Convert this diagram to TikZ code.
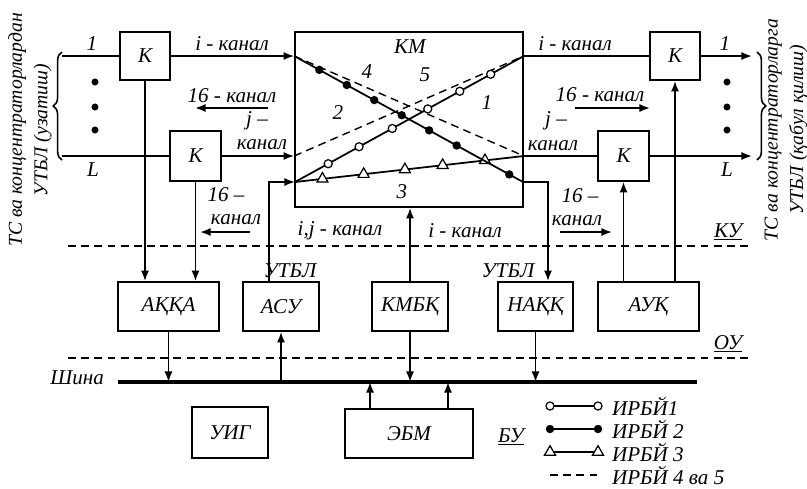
\documentclass[tikz,border=0pt]{standalone}
\usepackage{fontspec}
\setmainfont{Liberation Serif}
\usetikzlibrary{arrows.meta, positioning, calc, shapes.geometric, decorations.pathreplacing}

\begin{document}
\begin{tikzpicture}[
			x=0.02cm, y=-0.02cm,
			every node/.style={font=\fontsize{12}{14.5}\selectfont\itshape},
			block/.style={rectangle, draw, line width=1pt, inner sep=0pt},
			lowbox/.style={block, minimum height=0.98cm},
			arrow/.style={-{Latex[length=6pt,width=4.6pt]}, line width=1pt},
			wire/.style={line width=1pt},
			level/.style={dash pattern=on 4.5pt off 3pt, line width=0.8pt},
			bus/.style={line width=2.6pt},
			opendot/.style={circle, draw, fill=white, inner sep=0pt, minimum size=4.6pt, line width=0.7pt},
			fulldot/.style={circle, fill=black, inner sep=0pt, minimum size=4.8pt},
			tri/.style={regular polygon, regular polygon sides=3, draw, fill=white, inner sep=0pt, minimum size=7.2pt, line width=0.7pt},
			side/.style={rotate=90, align=center, font=\fontsize{11.2}{14.5}\selectfont\itshape},
			legtext/.style={anchor=west, inner sep=1pt},
			]
			\useasboundingbox (0,0) rectangle (807,488);
			
			% ---- switching level (top) ----
			\node[block, minimum width=1cm, minimum height=0.96cm] (K1) at (145,56) {К};
			\node[block, minimum width=1.02cm, minimum height=1cm] (K2) at (195.5,156) {К};
			\node[block, minimum width=4.56cm, minimum height=3.5cm] (KM) at (409,119.5) {};
			\node (KMlbl) at (410,47) {КМ};
			\node[block, minimum width=1cm, minimum height=0.96cm] (K3) at (675,56) {К};
			\node[block, minimum width=1.02cm, minimum height=1cm] (K4) at (623.5,156) {К};
			
			\coordinate (inA) at (62,56);
			\coordinate (inL) at (62,156);
			\coordinate (outA) at (752,56);
			\coordinate (outL) at (752,156);
			\coordinate (pA) at (KM.west |- K1);
			\coordinate (pJ) at (KM.west |- K2);
			\coordinate (pU) at (295,182);
			\coordinate (qA) at (KM.east |- K3);
			\coordinate (qJ) at (KM.east |- K4);
			\coordinate (qN) at (523,182);
			
			% ---- control and bus level (bottom) ----
			\node[lowbox, minimum width=2.02cm] (AKKA) at (168.5,306.5) {АҚҚА};
			\node[lowbox, minimum width=1.52cm] (ASU) at (281,306.5) {АСУ};
			\node[lowbox, minimum width=1.52cm] (KMBK) at (410,306.5) {КМБҚ};
			\node[lowbox, minimum width=1.5cm] (NAKK) at (535.5,306.5) {НАҚҚ};
			\node[lowbox, minimum width=2.02cm] (AUK) at (648.5,306.5) {АУҚ};
			\node[block, minimum width=1.52cm, minimum height=1.02cm] (UIG) at (230,432.5) {УИГ};
			\node[lowbox, minimum width=2.56cm] (EBM) at (409,433.5) {ЭБМ};
			
			\coordinate (busL) at (118,382);
			\coordinate (busR) at (697,382);
			\draw[bus] (busL) -- (busR);
			\node[anchor=east] (shina) at (110,378) {Шина};
			
			% level borders
			\draw[level] (68,246) -- (748,246);
			\draw[level] (68,358) -- (748,358);
			\node (KU) at (728,232) {\underline{КУ}};
			\node (OU) at (728,344) {\underline{ОУ}};
			\node (BU) at (511,437) {\underline{БУ}};
			
			% input side
			\draw[wire] (inA) -- (K1.west);
			\draw[wire] (inL) -- (K2.west);
			\draw[arrow] (K1.east) -- (pA);
			\draw[arrow] (K2.east) -- (pJ);
			\draw[arrow] ([xshift=-0.24cm]ASU.north) |- (pU);
			\draw[arrow] (K1.south) -- (K1.south |- AKKA.north);
			\draw[arrow] (K2.south) -- (K2.south |- AKKA.north);
			\draw[arrow] (KMBK.north) -- (KMBK.north |- KM.south);
			
			% output side
			\draw[wire] (qA) -- (K3.west);
			\draw[wire] (qJ) -- (K4.west);
			\draw[arrow] (K3.east) -- (outA);
			\draw[arrow] (K4.east) -- (outL);
			\draw[arrow] (qN) -| ([xshift=0.25cm]NAKK.north);
			\draw[arrow] (K4.south |- AUK.north) -- (K4.south);
			\draw[arrow] (K3.south |- AUK.north) -- (K3.south);
			
			% to and from the bus
			\draw[arrow] (AKKA.south) -- (AKKA.south |- busL);
			\draw[arrow] (ASU.south |- busL) -- (ASU.south);
			\draw[arrow] (KMBK.south) -- (KMBK.south |- busL);
			\draw[arrow] (NAKK.south) -- (NAKK.south |- busL);
			\draw[arrow] ([xshift=-0.78cm]EBM.north) -- ([xshift=-0.78cm]EBM.north |- busL);
			\draw[arrow] ([xshift=0.78cm]EBM.north) -- ([xshift=0.78cm]EBM.north |- busL);
			
			% ---- paths through KM ----
			\draw[level] (pA) -- (qJ);
			\draw[level] (pJ) -- (qA);
			\draw[wire] (pU) -- (qA)
			\foreach \p in {0.145,0.28,0.425,0.58,0.72,0.855} {node[opendot, pos=\p] {}};
			\draw[wire] (pU) -- (qJ)
			\foreach \p in {0.12,0.30,0.48,0.645,0.83} {node[tri, pos=\p] {}};
			\draw[wire] (pA) -- (qN)
			\foreach \p in {0.11,0.23,0.35,0.47,0.59,0.71,0.94} {node[fulldot, pos=\p] {}};
			\node (n4) at (367,72) {4};
			\node (n5) at (425,75) {5};
			\node (n2) at (338,113) {2};
			\node (n1) at (487,103) {1};
			\node (n3) at (402,192) {3};
			
			% ---- channel labels ----
			\node (l1) at (92,44) {1};
			\node (lL) at (93,170) {L};
			\node (r1) at (725,44) {1};
			\node (rL) at (727,170) {L};
			\foreach \y in {82,107,130} {
				\fill (95,\y) circle (2pt);
				\fill (727,\y) circle (2pt);
			}
			\draw[decorate, decoration={brace, amplitude=5pt}, line width=0.9pt] (62,160) -- (62,52);
			\draw[decorate, decoration={brace, amplitude=5pt}, line width=0.9pt] (757,52) -- (757,160);
			
			\node (ch1) at (232,44) {i - канал};
			\node (ch2) at (232,96) {16 - канал};
			\node (ch3) at (257,121) {j –};
			\node (ch4) at (262,145) {канал};
			\node (ch5) at (226,195) {16 –};
			\node (ch6) at (236,220) {канал};
			\node (ch7) at (340,231) {i,j - канал};
			\node (ch8) at (465,231) {i - канал};
			\node (ch9) at (575,44) {i - канал};
			\node (ch10) at (600,95) {16 - канал};
			\node (ch11) at (556,121) {j –};
			\node (ch12) at (553,146) {канал};
			\node (ch13) at (580,196) {16 –};
			\node (ch14) at (577,221) {канал};
			\coordinate (d1s) at (268,108);
			\coordinate (d1e) at (195,108);
			\coordinate (d2s) at (250,232);
			\coordinate (d2e) at (200,232);
			\coordinate (d3s) at (575,108);
			\coordinate (d3e) at (650,108);
			\coordinate (d4s) at (560,232);
			\coordinate (d4e) at (612,232);
			\draw[arrow] (d1s) -- (d1e);
			\draw[arrow] (d2s) -- (d2e);
			\draw[arrow] (d3s) -- (d3e);
			\draw[arrow] (d4s) -- (d4e);
			\node (utbl1) at (290,271) {УТБЛ};
			\node (utbl2) at (508,271) {УТБЛ};
			
			% side texts
			\node[side] (src) at (30,130) {ТС ва концентраторлардан\\УТБЛ (узатиш)};
			\node[side] (dst) at (786,130) {ТС ва концентраторларга\\УТБЛ (қабул қилиш)};
			
			% ---- legend ----
			\foreach \y/\m/\t in {406/opendot/ИРБЙ1, 429/fulldot/ИРБЙ 2, 452/tri/ИРБЙ 3} {
				\draw[wire] (550,\y) node[\m] {} -- (598,\y) node[\m] {};
				\node[legtext] at (610,\y) {\t};
			}
			\draw[level] (550,475) -- (598,475);
			\node[legtext] (lg4) at (610,475) {ИРБЙ 4 ва 5};
			
		\end{tikzpicture}
\end{document}
